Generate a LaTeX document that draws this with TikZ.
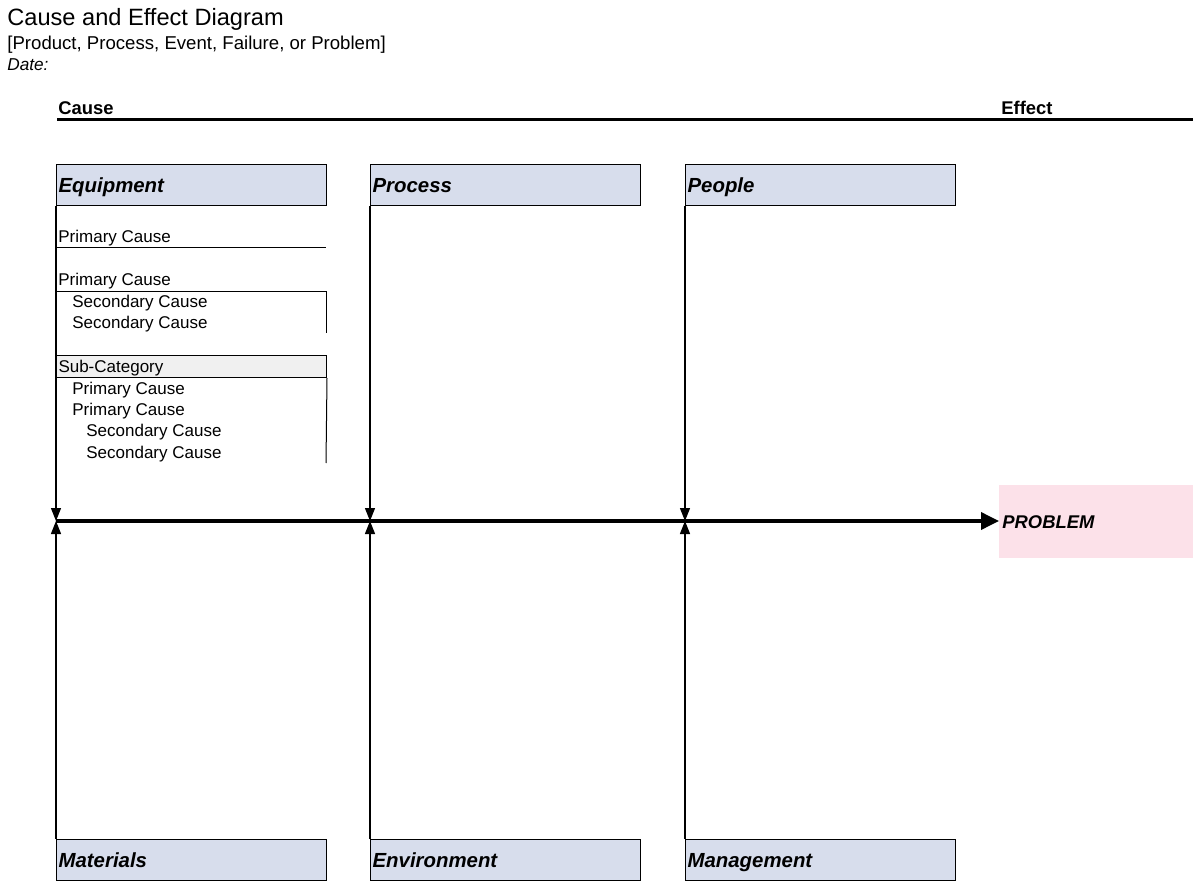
\documentclass[tikz,border=0pt]{standalone}
\usepackage{fontspec}
\setmainfont{Liberation Sans}
\usetikzlibrary{arrows.meta,positioning}

\definecolor{catfill}{RGB}{215,221,236}
\definecolor{subfill}{RGB}{240,240,240}
\definecolor{probfill}{RGB}{252,225,233}

\tikzset{
  catbox/.style={draw, fill=catfill, line width=0.6pt, anchor=north west,
    minimum width=135pt, minimum height=20.5pt, inner xsep=1pt, inner ysep=0pt,
    text width=133pt, text height=9.5pt, text depth=2pt, align=left,
    font=\fontsize{10.2}{12}\selectfont\bfseries\itshape},
  subbox/.style={draw, fill=subfill, line width=0.5pt, anchor=north west,
    minimum width=135pt, minimum height=11pt, inner xsep=1pt, inner ysep=0pt,
    text width=133pt, text height=8.2pt, text depth=2.4pt, align=left,
    font=\fontsize{8.5}{10}\selectfont},
  cause/.style={anchor=base west, inner sep=0pt, font=\fontsize{8.5}{10}\selectfont},
  head/.style={anchor=base west, inner sep=0pt, font=\fontsize{9.2}{11}\selectfont\bfseries},
  thin/.style={line width=0.5pt},
  bone/.style={line width=0.6pt, -{Triangle[length=6.5pt,width=5pt]}},
  spine/.style={line width=1.8pt, -{Triangle[length=9pt,width=8.5pt]}},
}

\begin{document}
\begin{tikzpicture}[x=0.5pt, y=-0.5pt]
  \useasboundingbox (0,0) rectangle (1200,888);

  % title block
  \node[anchor=base west, inner sep=0pt, font=\fontsize{11.8}{14}\selectfont] (title) at (7,26) {Cause and Effect Diagram};
  \node[anchor=base west, inner sep=0pt, font=\fontsize{9.3}{11}\selectfont] (subtitle) at (7,50) {[Product, Process, Event, Failure, or Problem]};
  \node[anchor=base west, inner sep=0pt, font=\fontsize{8.6}{10}\selectfont\itshape] (date) at (7,71) {Date:};

  % cause / effect heading
  \node[head] (causelbl) at (58,115) {Cause};
  \node[head] (effectlbl) at (1001,115) {Effect};
  \draw[line width=1.5pt] (57,120) -- (1193,120);

  % categories
  \node[catbox] (equip) at (56,164) {Equipment};
  \node[catbox] (proc) at (370,164) {Process};
  \node[catbox] (people) at (685,164) {People};
  \node[catbox] (mat) at (56,839) {Materials};
  \node[catbox] (env) at (370,839) {Environment};
  \node[catbox] (mgmt) at (685,839) {Management};

  % problem
  \node[fill=probfill, anchor=north west, minimum width=97pt, minimum height=36.5pt,
    inner xsep=1.5pt, text width=94pt, align=left,
    font=\fontsize{9.2}{11}\selectfont\bfseries\itshape] (prob) at (999,485) {PROBLEM};

  % junctions on the spine
  \coordinate (jE) at (56,521);
  \coordinate (jP) at (370,521);
  \coordinate (jM) at (685,521);

  % bones
  \draw[bone] (equip.south west) -- (jE);
  \draw[bone] (proc.south west) -- (jP);
  \draw[bone] (people.south west) -- (jM);
  \draw[bone] (mat.north west) -- (jE);
  \draw[bone] (env.north west) -- (jP);
  \draw[bone] (mgmt.north west) -- (jM);
  \draw[spine] (jE) -- (jE -| prob.west);

  % equipment causes
  \node[cause] (pc1) at (58,242.5) {Primary Cause};
  \draw[thin] (56,247) -- (326,247);

  \node[cause] (pc2) at (58,285.5) {Primary Cause};
  \draw[thin] (56,291) -- (326,291) -- (326,333);
  \node[cause] (sc1) at (72,307.5) {Secondary Cause};
  \node[cause] (sc2) at (72,328.5) {Secondary Cause};

  \node[subbox] (sub) at (56,355) {Sub-Category};
  \draw[thin] (sub.south east) -- (326,463);
  \node[cause] (pc3) at (72,394.5) {Primary Cause};
  \node[cause] (pc4) at (72,415.5) {Primary Cause};
  \node[cause] (sc3) at (86,436.5) {Secondary Cause};
  \node[cause] (sc4) at (86,458.5) {Secondary Cause};
\end{tikzpicture}
\end{document}
